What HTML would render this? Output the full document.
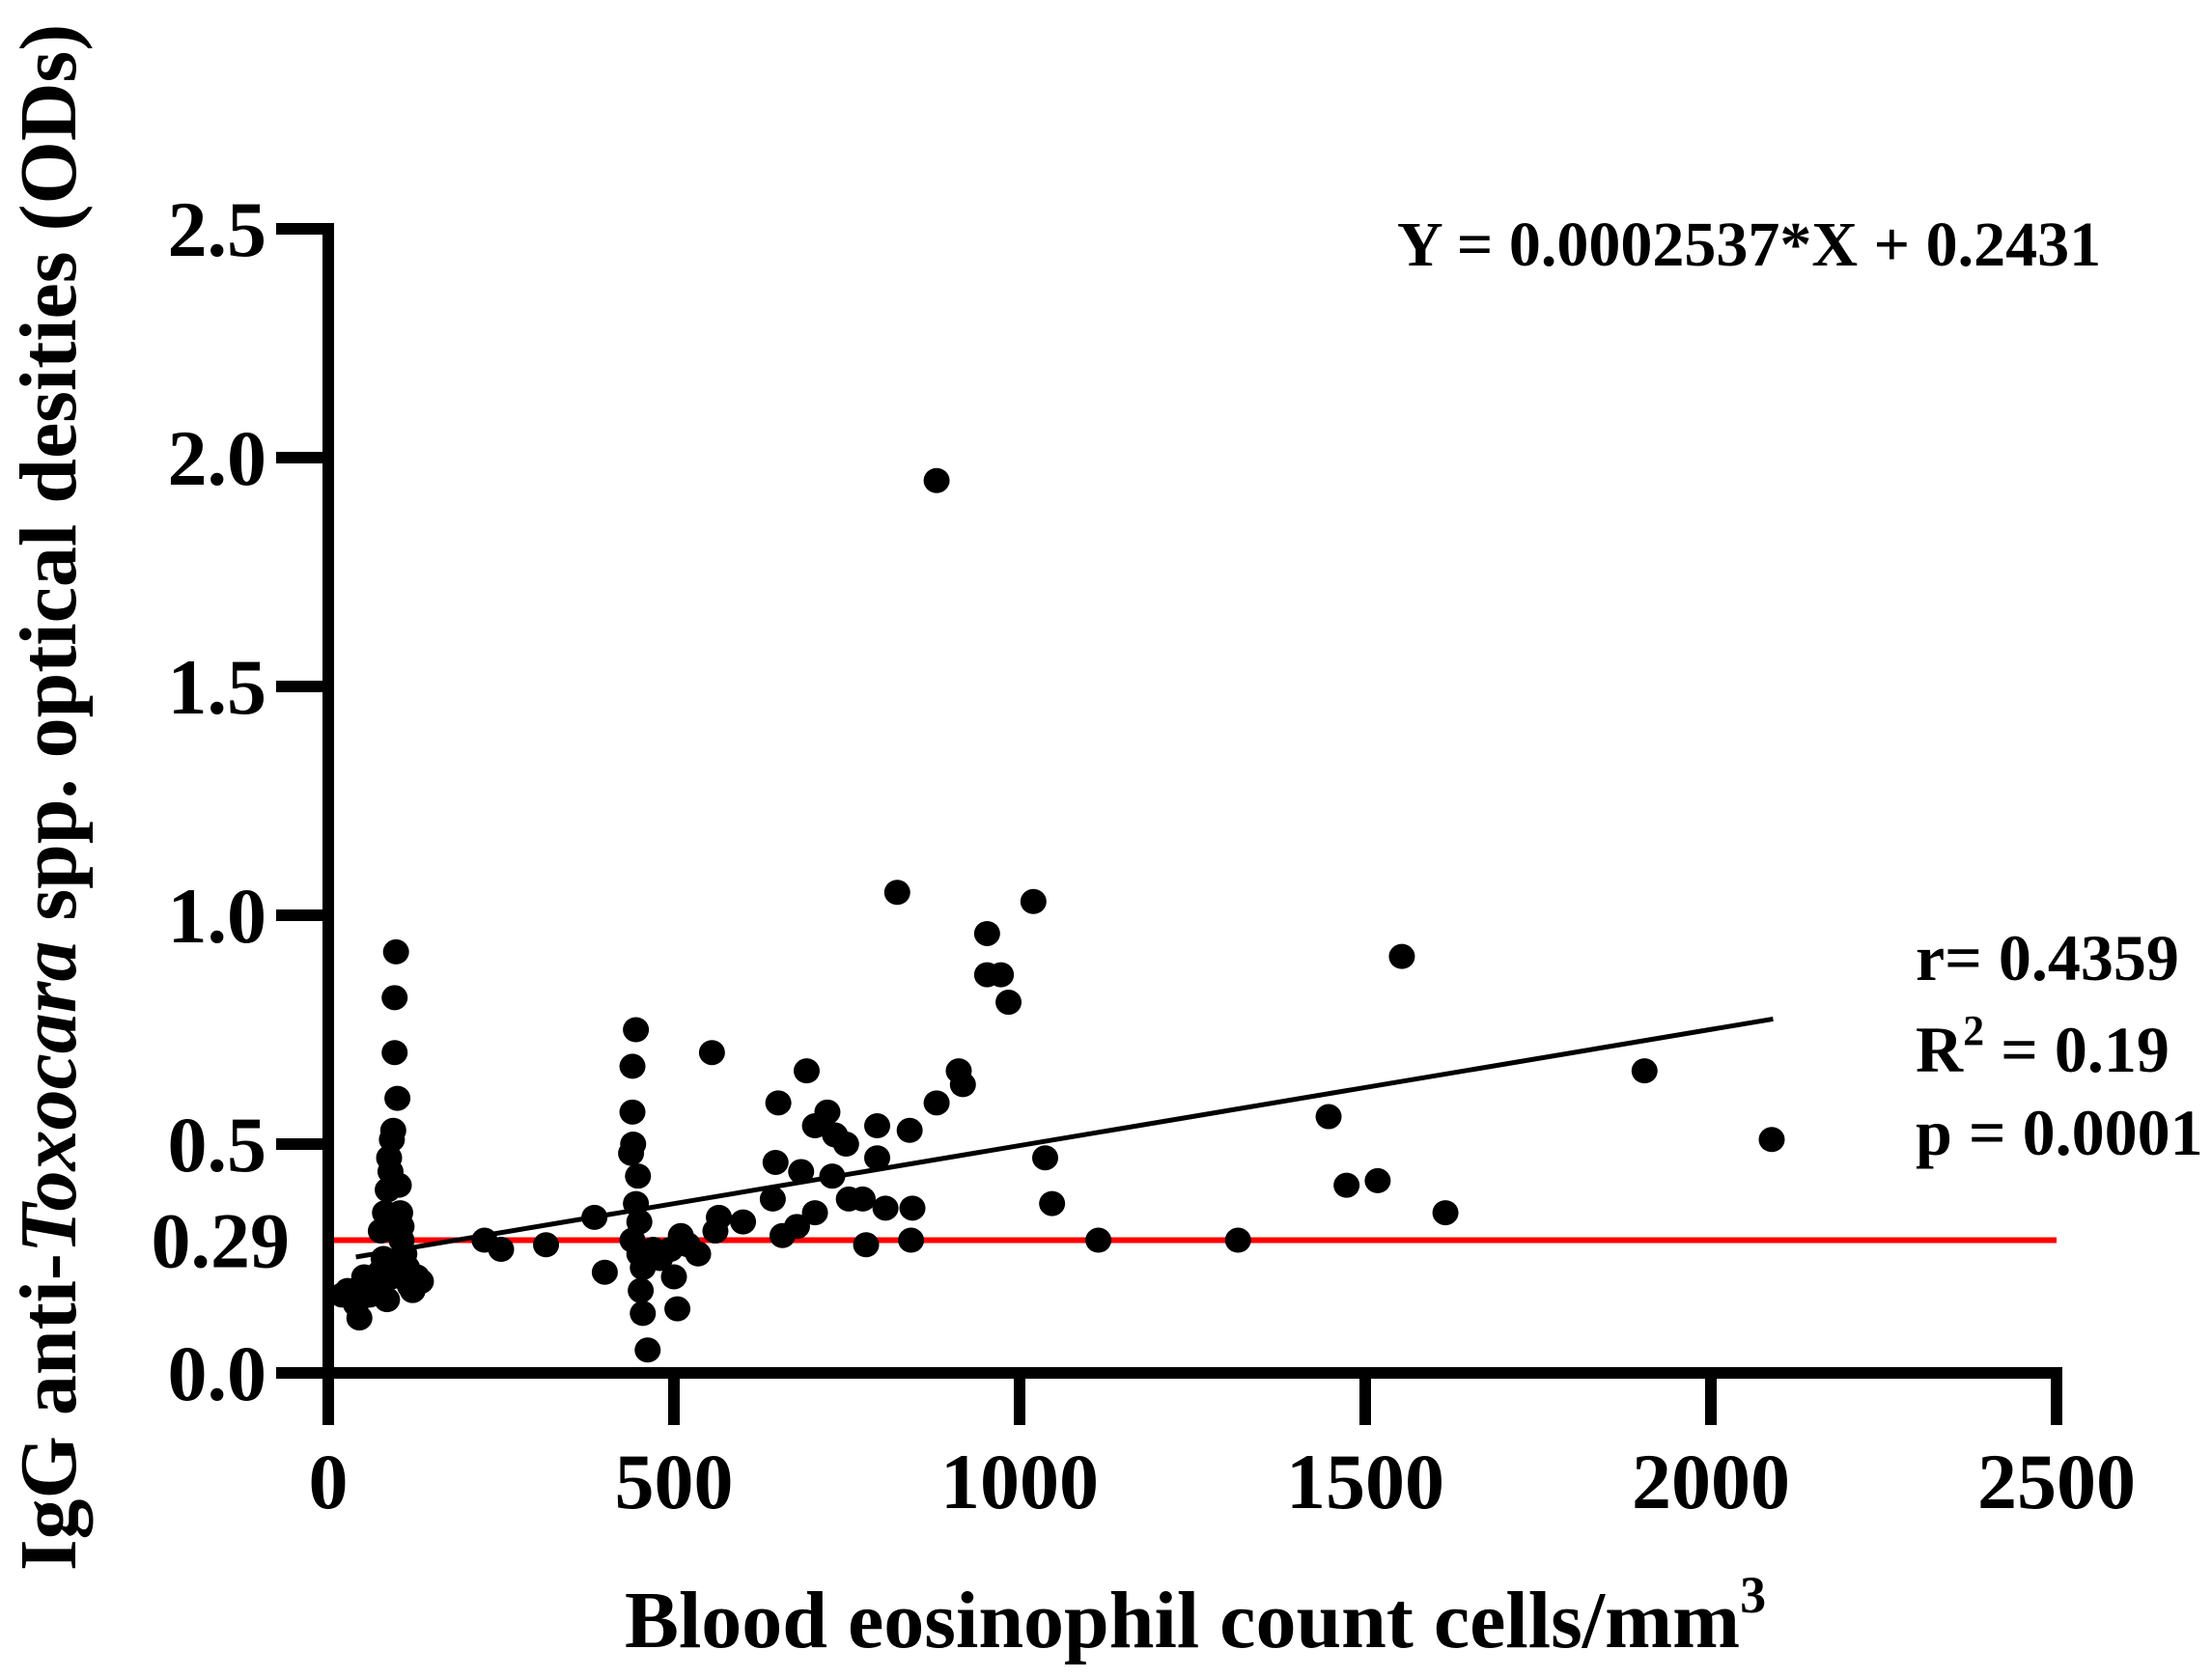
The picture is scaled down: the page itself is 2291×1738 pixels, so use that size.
<!DOCTYPE html>
<html><head><meta charset="utf-8"><style>
html,body{margin:0;padding:0;background:#fff;}
svg text{font-family:"Liberation Serif",serif;font-weight:bold;fill:#000;}
</style></head><body>
<svg id="chart" width="2291" height="1733" viewBox="0 0 2291 1733" xmlns="http://www.w3.org/2000/svg">
<g id="marks"></g>
<g id="axes"></g>
<text transform="translate(78,826) rotate(-90)" text-anchor="middle" font-size="84">IgG anti-<tspan font-style="italic">Toxocara</tspan> spp. optical desities (ODs)</text>
<text x="1238" y="1706" text-anchor="middle" font-size="84">Blood eosinophil count cells/mm<tspan dy="-36" font-size="54">3</tspan></text>
<text x="1447" y="275" font-size="66">Y = 0.0002537*X + 0.2431</text>
<text x="1984" y="1015" font-size="68">r= 0.4359</text>
<text x="1984" y="1110" font-size="68">R<tspan dy="-28" font-size="44">2</tspan><tspan dy="28"> = 0.19</tspan></text>
<text x="1984" y="1196" font-size="68">p = 0.0001</text>
</svg>
<script>
const xVals=[20,28,40,45,60,52,65,75,80,85,92,82,86,90,92,94,96,96,98,100,102,104,106,110,114,118,122,128,134,106,76,88,
226,250,315,385,400,
445,440,440,441,438,448,445,450,440,450,455,452,455,462,470,480,495,510,500,505,520,535,555,565,560,600,
651,647,643,657,692,684,704,722,733,749,704,729,678,753,773,778,794,794,806,841,845,843,823,880,880,912,918,953,953,973,984,1020,1037,1047,1114,1316,1447,1473,1518,1553,1616,1904,2088];
const yVals=[0.17,0.18,0.15,0.12,0.17,0.21,0.19,0.22,0.25,0.16,0.21,0.35,0.40,0.44,0.51,0.53,0.70,0.82,0.92,0.60,0.41,0.35,0.32,0.26,0.23,0.19,0.18,0.21,0.20,0.29,0.31,0.47,
0.29,0.27,0.28,0.34,0.22,
0.75,0.67,0.57,0.50,0.48,0.43,0.37,0.33,0.29,0.26,0.23,0.18,0.13,0.05,0.27,0.25,0.27,0.30,0.21,0.14,0.28,0.26,0.70,0.34,0.31,0.33,
0.59,0.46,0.38,0.30,0.66,0.44,0.54,0.57,0.52,0.50,0.35,0.43,0.32,0.38,0.38,0.28,0.47,0.54,0.36,0.53,0.36,0.29,1.05,1.95,0.59,0.66,0.63,0.87,0.96,0.87,0.81,1.03,0.47,0.37,0.29,0.29,0.56,0.41,0.42,0.91,0.35,0.66,0.51];
const xTicks=[0,500,1000,1500,2000,2500];
const yTicks=[0,0.5,1.0,1.5,2.0,2.5];
const yTickLabels=["0.0","0.5","1.0","1.5","2.0","2.5"];
const cutoff=[0.29];
const slope=0.0002537, intercept=0.2431, fitRange=[40,2090];

const NS="http://www.w3.org/2000/svg";
const X0=340,X1=2130,Y0=1422,Y1=237;
const sx=v=>X0+v*(X1-X0)/2500;
const sy=v=>Y0-v*(Y0-Y1)/2.5;
function mk(t,a,p){const e=document.createElementNS(NS,t);for(const k in a)e.setAttribute(k,a[k]);p.appendChild(e);return e;}
const marks=document.getElementById('marks'), axes=document.getElementById('axes');

const rl=mk('line',{x1:sx(0),x2:sx(2500),y1:sy(cutoff[0]),y2:sy(cutoff[0]),stroke:'#ff0000','stroke-width':6},marks);


const fl=mk('line',{x1:sx(fitRange[0]),x2:sx(fitRange[1]),y1:sy(intercept+slope*fitRange[0]),y2:sy(intercept+slope*fitRange[1]),stroke:'#000','stroke-width':5},marks);


for(let i=0;i<xVals.length;i++){
  const c=mk('ellipse',{cx:sx(xVals[i]),cy:sy(yVals[i]),rx:13.5,ry:13,fill:'#000'},marks);
  
  
}
const ya=mk('line',{x1:X0,x2:X0,y1:Y1-6,y2:Y0+54,stroke:'#000','stroke-width':12},axes);


const xa=mk('line',{x1:X0-54,x2:X1+6,y1:Y0,y2:Y0,stroke:'#000','stroke-width':12},axes);


xTicks.forEach(v=>{
  const t=mk('line',{x1:sx(v),x2:sx(v),y1:Y0,y2:Y0+54,stroke:'#000','stroke-width':12},axes);
  
  
  const l=mk('text',{x:sx(v),y:1562,'text-anchor':'middle','font-size':82},axes);
  l.textContent=v;
  
  
});
yTicks.forEach((v,i)=>{
  const t=mk('line',{x1:X0-54,x2:X0,y1:sy(v),y2:sy(v),stroke:'#000','stroke-width':12},axes);
  
  
  const l=mk('text',{x:276,y:sy(v)+28,'text-anchor':'end','font-size':82},axes);
  l.textContent=yTickLabels[i];
  
  
});
const cl=mk('text',{x:300,y:sy(cutoff[0])+28,'text-anchor':'end','font-size':82},axes);
cl.textContent=cutoff[0].toFixed(2);


</script>
</body></html>
